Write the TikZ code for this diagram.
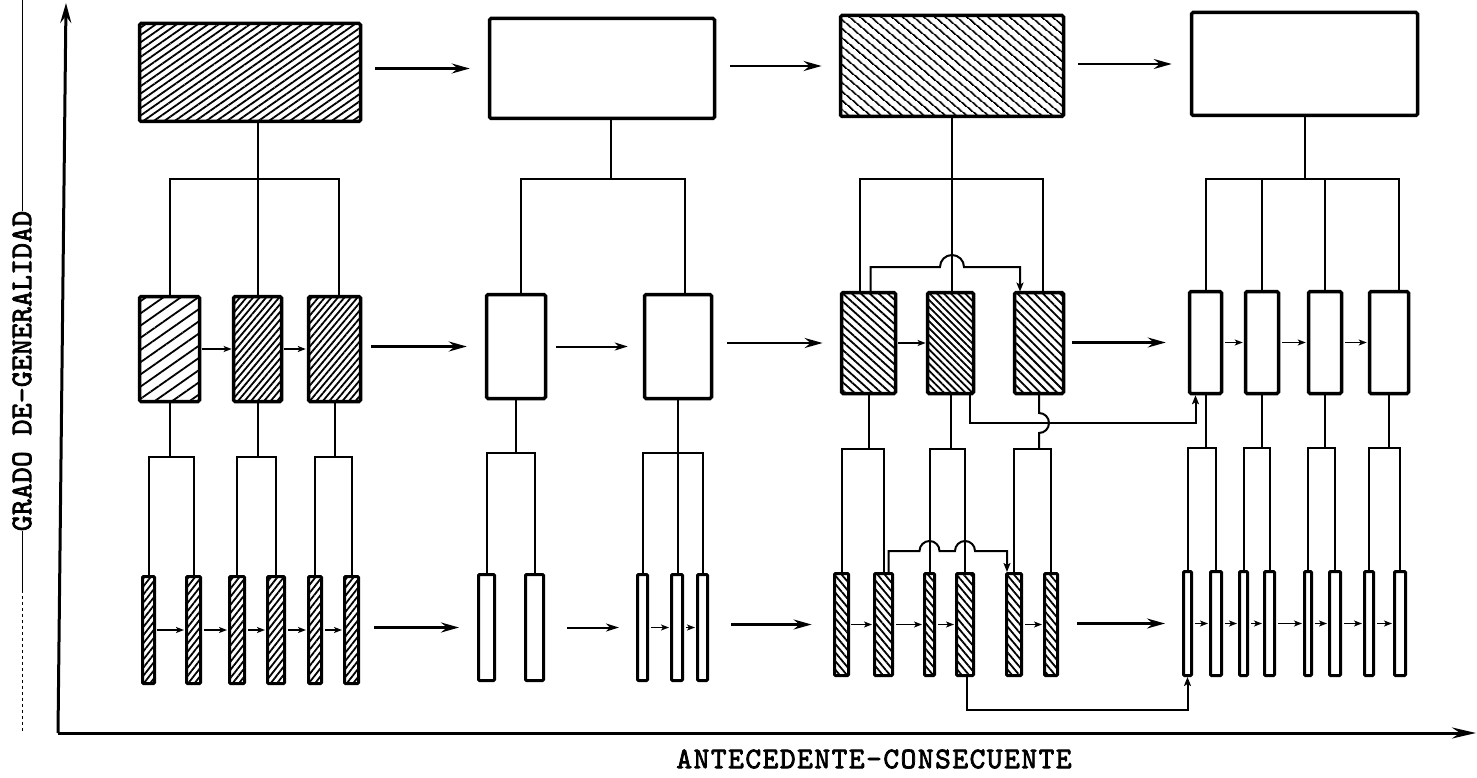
\documentclass[tikz,border=0pt]{standalone}
\usepackage{fontspec}
\usepackage{tikz}
\usetikzlibrary{arrows.meta,patterns.meta}
\newfontfamily\ejefont{lmmono10-regular.otf}[LetterSpace=5,FakeBold=2.5]
\newfontfamily\ejefontv{lmmono10-regular.otf}[LetterSpace=1,FakeBold=2.5]
\newcommand{\fork}[4]{\draw[conn] (#1.south) -- (#1.south |- 0,#4); \draw[conn] (#2.north) |- (#1.south |- 0,#4) -| (#3.north);}
\tikzset{
  box/.style={draw,line width=3.5pt,rounded corners=1.5pt,inner sep=0pt},
  slat/.style={draw,line width=3pt,rounded corners=1pt,inner sep=0pt},
  hatch/.style args={#1/#2}{pattern={Lines[angle=#1,distance=#2pt,line width=1.8pt]}},
  conn/.style={line width=2pt},
  ctip/.style={-{Stealth[length=9pt,width=7pt,inset=2pt]}},
  arr/.style={line width=2.5pt,-{Stealth[length=18pt,width=10pt,inset=6pt]},shorten <=14pt,shorten >=18pt},
  marr/.style={line width=2pt,-{Stealth[length=13pt,width=8pt,inset=4pt]},shorten <=9pt,shorten >=15pt},
  sarr/.style={line width=1.5pt,-{Stealth[length=8pt,width=6pt,inset=2pt]},shorten <=2pt,shorten >=1pt},
}
\begin{document}
\begin{tikzpicture}[x=1pt,y=-1pt]
\useasboundingbox (0,0) rectangle (1477,778);
% ---- EJES ----
\coordinate (O) at (58,733);
\coordinate (ytip) at (66,3);
\coordinate (xtip) at (1476,733);
\draw[line width=3pt,-{Stealth[length=20pt,width=11pt,inset=7pt]}] (O) -- (ytip);
\draw[line width=3pt,-{Stealth[length=24pt,width=11pt,inset=8pt]}] (O) -- (xtip);
\node[inner sep=0pt,font={\ejefont\fontsize{30}{30}\selectfont}] (xlab) at (874,759) {ANTECEDENTE-CONSECUENTE};
\node[inner sep=0pt,rotate=90,font={\ejefontv\fontsize{30}{30}\selectfont}] (ylab) at (22,371) {GRADO DE-GENERALIDAD};
\draw[line width=1pt] (ylab.east) -- (ylab.east |- 0,0);
\draw[line width=1pt] (ylab.west) -- (ylab.west |- 0,590);
\draw[line width=1pt,dashed] (ylab.west |- 0,590) -- (ylab.west |- 0,733);
% ---- NIVEL 1 ----
\node[box,hatch=35/6,minimum width=221pt,minimum height=98pt] (A1) at (250,72.5) {};
\node[box,minimum width=225pt,minimum height=100pt] (B1) at (602,68.5) {};
\node[box,hatch=-40/6.5,minimum width=223pt,minimum height=101pt] (C1) at (952,66) {};
\node[box,minimum width=226pt,minimum height=103pt] (D1) at (1304.5,64) {};
\draw[arr] (B1.west -| A1.east) -- (B1.west);
\draw[arr] (C1.west -| B1.east) -- (C1.west);
\draw[arr] (D1.west -| C1.east) -- (D1.west);
% ---- NIVEL 2 ----
\node[box,hatch=35/10,minimum width=60pt,minimum height=105pt] (A2a) at (169.5,349) {};
\node[box,hatch=50/5,minimum width=48pt,minimum height=105pt] (A2b) at (257.5,349) {};
\node[box,hatch=50/5,minimum width=52pt,minimum height=105pt] (A2c) at (334.5,349) {};
\node[box,minimum width=59pt,minimum height=104pt] (B2a) at (516,346.5) {};
\node[box,minimum width=67pt,minimum height=104pt] (B2b) at (678,346.5) {};
\node[box,hatch=-42/6,minimum width=54pt,minimum height=101pt] (C2a) at (868.5,343) {};
\node[box,hatch=-45/5,minimum width=46pt,minimum height=101pt] (C2b) at (950.5,343) {};
\node[box,hatch=-45/6,minimum width=49pt,minimum height=101pt] (C2c) at (1039,343) {};
\foreach \n/\x/\w in {D2a/1205.5/32,D2b/1262/33,D2c/1325/33,D2d/1389/39}
  \node[box,minimum width=\w pt,minimum height=102pt] (\n) at (\x,342.5) {};
% ramas nivel 1 -> 2
\draw[conn] (A2b.north) -- (A2b.north |- A1.south);
\draw[conn] (A2a.north) |- (A2b.north |- 0,179) -| ([xshift=4pt]A2c.north);
\draw[conn] ([xshift=9pt]B1.south) -- ([xshift=9pt]B1.south |- 0,179);
\draw[conn] ([xshift=5pt]B2a.north) |- ([xshift=9pt]B1.south |- 0,179) -| ([xshift=7pt]B2b.north);
\draw[conn] (C1.south) -- (C1.south |- C2b.north);
\draw[conn] ([xshift=-9pt]C2a.north) |- (C1.south |- 0,179) -| ([xshift=4pt]C2c.north);
\draw[conn] (D1.south) -- (D1.south |- 0,179);
\draw[conn] (D2a.north) |- (D1.south |- 0,179) -| ([xshift=10pt]D2d.north);
\draw[conn] (D2b.north) -- (D2b.north |- 0,179);
\draw[conn] (D2c.north) -- (D2c.north |- 0,179);
\draw[conn,ctip] ([xshift=2pt]C2a.north) |- ([xshift=-12pt]C1.south |- 0,267)
  arc[start angle=180,end angle=0,radius=12pt] -| ([xshift=-19pt]C2c.north);
\draw[arr,shorten <=9pt] (B2a.west -| A2c.east) -- (B2a.west);
\draw[marr] (B2b.west -| B2a.east) -- (B2b.west);
\draw[arr] (C2a.west -| B2b.east) -- (C2a.west);
\draw[arr,shorten <=8pt,shorten >=22pt] (D2a.west -| C2c.east) -- (D2a.west);
\foreach \p/\q in {A2a/A2b,A2b/A2c,C2a/C2b,D2a/D2b,D2b/D2c,D2c/D2d}{
  \draw[sarr] (\p.east) -- (\p.east -| \q.west);}
% ---- NIVEL 3 ----
\foreach \n/\x/\w in {a1/148.5/12,a2/193.5/14,a3/237/15,a4/276/17,a5/315/13,a6/351.5/14}
  \node[slat,hatch=52/5,minimum width=\w pt,minimum height=107pt] (\n) at (\x,630) {};
\foreach \n/\x/\w in {b1/486.5/16,b2/534.5/18,b3/642.5/10,b4/677/11,b5/702.5/10}
  \node[slat,minimum width=\w pt,minimum height=106pt] (\n) at (\x,627.5) {};
\foreach \n/\x/\w in {c1/841.5/14,c2/883.5/18,c3/929.5/10,c4/965/17,c5/1014/15,c6/1051/13}
  \node[slat,hatch=-50/5.5,minimum width=\w pt,minimum height=102pt] (\n) at (\x,624.5) {};
\foreach \n/\x/\w in {d1/1187.5/8,d2/1216/11,d3/1243.5/8,d4/1269.5/10,d5/1308/7,d6/1335/11,d7/1369/9,d8/1400/11}
  \node[slat,minimum width=\w pt,minimum height=104pt] (\n) at (\x,623.5) {};
% ramas nivel 2 -> 3
\fork{A2a}{a1}{a2}{457} \fork{A2b}{a3}{a4}{457} \fork{A2c}{a5}{a6}{457}
\fork{B2a}{b1}{b2}{453} \fork{B2b}{b3}{b5}{453}
\draw[conn] (B2b.south) -- (B2b.south |- b4.north);
\fork{C2a}{c1}{c2}{449} \fork{C2b}{c3}{c4}{449}
\draw[conn] (C2c.south) -- (C2c.south |- 0,413) arc[start angle=90,end angle=-90,radius=10pt]
  -- (C2c.south |- 0,449);
\draw[conn] (c5.north) |- (C2c.south |- 0,449) -| (c6.north);
\fork{D2a}{d1}{d2}{448} \fork{D2b}{d3}{d4}{448} \fork{D2c}{d5}{d6}{448} \fork{D2d}{d7}{d8}{448}
\draw[conn,ctip] ([xshift=19pt]C2b.south) |- ([xshift=-10pt]D2a.south |- 0,423) -- ([xshift=-10pt]D2a.south);
\draw[conn,ctip] ([xshift=5pt]c2.north) |- ([xshift=-10pt]c3.north |- 0,551)
  arc[start angle=180,end angle=0,radius=10pt] -- ([xshift=-10pt]c4.north |- 0,551)
  arc[start angle=180,end angle=0,radius=10pt] -| ([xshift=-7pt]c5.north);
\draw[conn,ctip] ([xshift=2pt]c4.south) -- ++(0,33) -| (d1.south);
\draw[arr] (b1.west -| a6.east) -- (b1.west);
\draw[marr,shorten <=22pt,shorten >=17pt] (b3.west -| b2.east) -- (b3.west);
\draw[arr,shorten <=22pt,shorten >=22pt] (c1.west -| b5.east) -- (c1.west);
\draw[arr,shorten <=18pt,shorten >=17pt] (d1.west -| c6.east) -- (d1.west);
\foreach \p/\q in {a1/a2,a2/a3,a3/a4,a4/a5,a5/a6,b3/b4,b4/b5,c1/c2,c2/c3,c3/c4,c5/c6,d1/d2,d2/d3,d3/d4,d4/d5,d5/d6,d6/d7,d7/d8}{
  \draw[sarr] (\p.east) -- (\p.east -| \q.west);}
\end{tikzpicture}
\end{document}
